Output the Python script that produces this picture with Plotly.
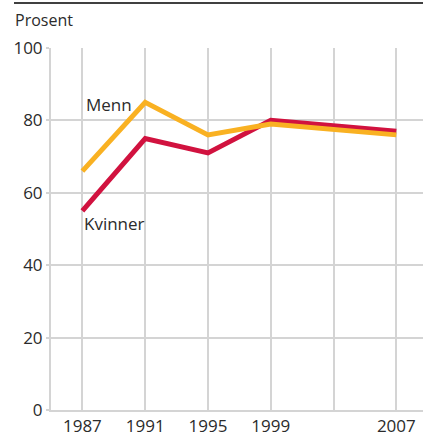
import plotly.graph_objects as go

years = [1987, 1991, 1995, 1999, 2007]
menn = [66, 85, 76, 79, 76]
kvinner = [55, 75, 71, 80, 77]
x_ticks = [1987, 1991, 1995, 1999, 2003, 2007]
x_ticktext = ["1987", "1991", "1995", "1999", "", "2007"]
y_ticks = [0, 20, 40, 60, 80, 100]

RED = "#D1123F"
YEL = "#F9B122"
GRID = "#D4D4D4"
TXT = "#2b2b2b"
FONT = "Open Sans"
FS = 17

fig = go.Figure()
fig.add_trace(go.Scatter(x=years, y=kvinner, mode="lines", name="Kvinner",
                         line=dict(color=RED, width=5), showlegend=False))
fig.add_trace(go.Scatter(x=years, y=menn, mode="lines", name="Menn",
                         line=dict(color=YEL, width=5), showlegend=False))

W, H = 423, 436
L, R, T, B = 51, 0, 48, 26

fig.update_layout(
    width=W, height=H,
    margin=dict(l=L, r=R, t=T, b=B),
    paper_bgcolor="white", plot_bgcolor="white",
    font=dict(family=FONT, size=FS, color=TXT),
    xaxis=dict(range=[1985, 2008.7], tickvals=x_ticks, ticktext=x_ticktext,
               showgrid=True, gridcolor=GRID, gridwidth=2,
               showline=True, linecolor=GRID, linewidth=2,
               zeroline=False, ticks="", fixedrange=True,
               tickfont=dict(family=FONT, size=FS, color=TXT)),
    yaxis=dict(range=[0, 100], tickvals=y_ticks,
               showgrid=True, gridcolor=GRID, gridwidth=2,
               showline=True, linecolor=GRID, linewidth=2,
               zeroline=False, ticks="outside", ticklen=3, tickcolor=GRID,
               tickwidth=2, fixedrange=True,
               tickfont=dict(family=FONT, size=FS, color=TXT)),
    annotations=[
        dict(text="Prosent", xref="paper", yref="paper",
             x=(13 - L) / (W - L - R), y=(H - B - 20) / (H - T - B),
             xanchor="left", yanchor="middle", showarrow=False,
             font=dict(family=FONT, size=FS - 1, color=TXT)),
        dict(text="Menn", x=1987.1, y=84.5, xanchor="left", yanchor="middle",
             showarrow=False, font=dict(family=FONT, size=FS, color=TXT)),
        dict(text="Kvinner", x=1986.95, y=51.5, xanchor="left", yanchor="middle",
             showarrow=False, font=dict(family=FONT, size=FS, color=TXT)),
    ],
    shapes=[
        dict(type="line", xref="paper", yref="paper",
             x0=(14 - L) / (W - L - R), x1=1.0,
             y0=(H - B - 3) / (H - T - B), y1=(H - B - 3) / (H - T - B),
             line=dict(color="#000000", width=1.5)),
    ],
)

fig.write_html("out.html", config={"displayModeBar": False},
               post_script="document.body.style.margin='0';document.body.style.overflow='hidden';")
